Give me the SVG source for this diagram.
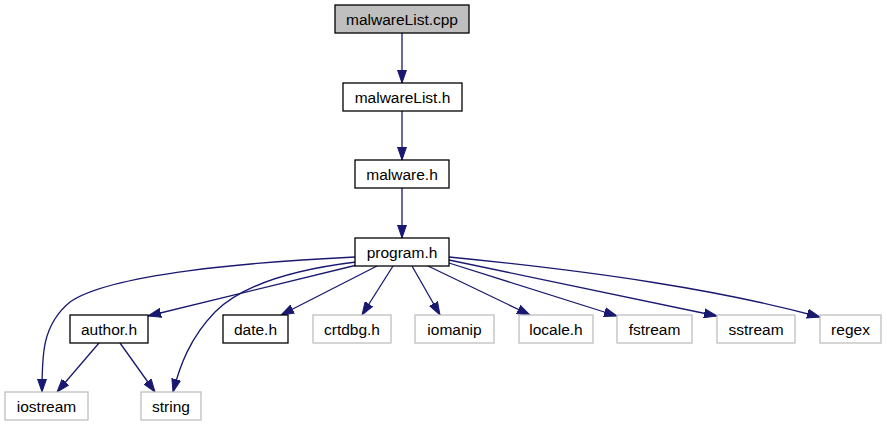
<svg xmlns="http://www.w3.org/2000/svg" width="887" height="427" viewBox="0 0 887 427">
<style>
.n rect{fill:#fff;stroke:#000;stroke-width:1.3}
.g rect{fill:#fff;stroke:#bfbfbf;stroke-width:1.3}
#n0 rect{fill:#bfbfbf}
text{font-family:"Liberation Sans",Arial,sans-serif;font-size:15.5px;text-anchor:middle;fill:#000}
.e path{fill:none;stroke:#191970;stroke-width:1.3;marker-end:url(#a)}
</style>
<defs>
<marker id="a" markerUnits="userSpaceOnUse" markerWidth="14" markerHeight="10" refX="13" refY="5" orient="auto">
<path d="M0,0.5 L13,5 L0,9.5 Z" fill="#191970" stroke="#191970" stroke-width="1"/>
</marker>
</defs>
<rect width="887" height="427" fill="#fff"/>
<g class="e" id="edges">
<path d="M402,33 V83"/>
<path d="M402,111 V160"/>
<path d="M402,188 V238"/>
<path d="M355,257 C250,262 110,274 70,302 C42,325 42,355 42,392"/>
<path d="M356,262 C290,270 240,287 215,312 C190,338 180,365 173,392"/>
<path d="M357,265 L148,316"/>
<path d="M377,266 L281,315"/>
<path d="M393,266 L362,315"/>
<path d="M412,266 L440,315"/>
<path d="M428,266 L530,315"/>
<path d="M449,263 L617,316"/>
<path d="M449,260 L717,316"/>
<path d="M449,257 C600,272 720,290 820,317"/>
<path d="M99,343 L57,392"/>
<path d="M120,343 L155,392"/>
</g>
<g id="n0" class="n"><rect x="335" y="5" width="134" height="28"/><text x="402" y="24.5">malwareList.cpp</text></g>
<g id="n1" class="n"><rect x="343" y="83" width="119" height="28"/><text x="402.5" y="102.5">malwareList.h</text></g>
<g id="n2" class="n"><rect x="355" y="160" width="94" height="28"/><text x="402" y="179.5">malware.h</text></g>
<g id="n3" class="n"><rect x="355" y="238" width="94" height="28"/><text x="402" y="257.5">program.h</text></g>
<g id="n4" class="n"><rect x="70" y="315" width="78" height="28"/><text x="109" y="334.5">author.h</text></g>
<g id="n5" class="n"><rect x="223" y="315" width="65" height="28"/><text x="255.5" y="334.5">date.h</text></g>
<g id="n6" class="g"><rect x="313" y="315" width="78" height="28"/><text x="352" y="334.5">crtdbg.h</text></g>
<g id="n7" class="g"><rect x="415" y="315" width="79" height="28"/><text x="454.5" y="334.5">iomanip</text></g>
<g id="n8" class="g"><rect x="519" y="315" width="74" height="28"/><text x="556" y="334.5">locale.h</text></g>
<g id="n9" class="g"><rect x="617" y="315" width="75" height="28"/><text x="654.5" y="334.5">fstream</text></g>
<g id="n10" class="g"><rect x="717" y="315" width="78" height="28"/><text x="756" y="334.5">sstream</text></g>
<g id="n11" class="g"><rect x="820" y="315" width="61" height="28"/><text x="850.5" y="334.5">regex</text></g>
<g id="n12" class="g"><rect x="5" y="392" width="83" height="28"/><text x="46.5" y="411.5">iostream</text></g>
<g id="n13" class="g"><rect x="141" y="392" width="60" height="28"/><text x="171" y="411.5">string</text></g>
</svg>
